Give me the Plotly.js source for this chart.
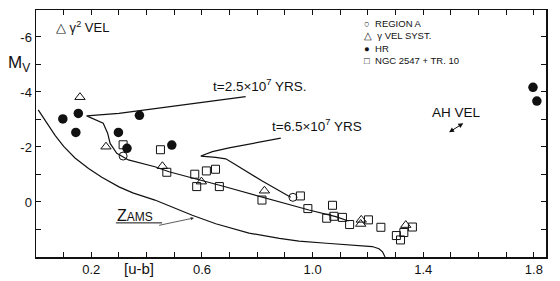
<!DOCTYPE html>
<html>
<head>
<meta charset="utf-8">
<script src="https://cdn.plot.ly/plotly-3.0.1.min.js"></script>
<style>html,body{margin:0;padding:0;background:#fff;}#chart{width:560px;height:281px;}</style>
</head>
<body>
<div id="chart"></div>
<script>
// ---- data ----
var hrX = [0.097, 0.153, 0.144, 0.298, 0.374, 0.329, 0.491, 1.797, 1.811];
var hrY = [-3.02, -3.22, -2.53, -2.53, -3.15, -1.95, -2.07, -4.17, -3.67];

var regionAX = [0.315, 0.929];
var regionAY = [-1.67, -0.17];

var gvelX = [0.159, 0.253, 0.457, 0.598, 0.826, 1.176, 1.174, 1.337];
var gvelY = [-3.81, -2.01, -1.30, -0.74, -0.41, 0.65, 0.80, 0.84];

var ngcX = [0.315, 0.450, 0.473, 0.574, 0.616, 0.649, 0.581, 0.663, 0.817, 0.956, 0.983,
            1.072, 1.051, 1.077, 1.108, 1.134, 1.202, 1.247, 1.303, 1.318, 1.330, 1.361];
var ngcY = [-2.08, -1.90, -1.08, -1.01, -1.13, -1.19, -0.56, -0.56, -0.07, -0.22, 0.24,
            0.12, 0.59, 0.52, 0.56, 0.82, 0.65, 0.92, 1.22, 1.38, 1.11, 0.91];

var zamsX = [0.008, 0.04, 0.069, 0.10, 0.141, 0.19, 0.238, 0.30, 0.35, 0.43, 0.50, 0.565,
             0.65, 0.77, 0.88, 0.951, 1.05, 1.132, 1.19, 1.216, 1.24, 1.253, 1.262];
var zamsY = [-3.35, -2.87, -2.42, -2.02, -1.60, -1.22, -0.90, -0.55, -0.33, -0.07, 0.22, 0.48,
             0.79, 1.13, 1.32, 1.42, 1.50, 1.55, 1.59, 1.62, 1.70, 1.81, 2.0];

var iso25X = [0.758, 0.60, 0.43, 0.30, 0.183, 0.243, 0.259, 0.268, 0.292, 0.334, 0.43, 0.481,
              0.674, 0.818, 0.987, 1.084, 1.13];
var iso25Y = [-3.83, -3.62, -3.37, -3.22, -3.13, -2.86, -2.50, -2.13, -1.77, -1.53, -1.28, -1.10,
              -0.58, -0.17, 0.29, 0.53, 0.69];

var iso65X = [0.885, 0.77, 0.698, 0.638, 0.596, 0.65, 0.686, 0.71, 0.818, 0.921];
var iso65Y = [-2.32, -2.12, -1.97, -1.83, -1.67, -1.62, -1.57, -1.43, -0.76, -0.17];

var xTickVals = [0.1,0.2,0.3,0.4,0.5,0.6,0.7,0.8,0.9,1.0,1.1,1.2,1.3,1.4,1.5,1.6,1.7,1.8];
var xTickText = ['','0.2','','','','0.6','','','','1.0','','','','1.4','','','','1.8'];
var yTickVals = [-6,-5,-4,-3,-2,-1,0,1];
var yTickText = ['-6','','-4','','-2','','0',''];

var legendLabels = ['REGION A', '\u03B3 VEL SYST.', 'HR', 'NGC 2547 + TR. 10'];
var legendGlyphs = ['\u25CB', '\u25B3', '\u25CF', '\u25A1'];

// ---- traces ----
var lineStyle = {color:'#111', width:1.2};
var traces = [
  {x: zamsX, y: zamsY, mode:'lines', line: lineStyle, hoverinfo:'skip'},
  {x: iso25X, y: iso25Y, mode:'lines', line: lineStyle, hoverinfo:'skip'},
  {x: iso65X, y: iso65Y, mode:'lines', line: lineStyle, hoverinfo:'skip'},
  {x: ngcX, y: ngcY, mode:'markers', name:legendLabels[3],
   marker:{symbol:'square-open', size:8, color:'#111', line:{width:1}}},
  {x: gvelX, y: gvelY, mode:'markers', name:legendLabels[1],
   marker:{symbol:'triangle-up-open', size:9, color:'#111', line:{width:1}}},
  {x: regionAX, y: regionAY, mode:'markers', name:legendLabels[0],
   marker:{symbol:'circle-open', size:8, color:'#111', line:{width:1}}},
  {x: hrX, y: hrY, mode:'markers', name:legendLabels[2],
   marker:{symbol:'circle', size:9.5, color:'#111'}}
];

var F = 'Liberation Sans, Arial, sans-serif';
var ann = [];
// Mv label
ann.push({xref:'paper', yref:'y', x:0, y:-5, xanchor:'right', yanchor:'middle', xshift:-4,
  text:'M<sub>V</sub>', showarrow:false, font:{family:F, size:17, color:'#111'}});
// x label
ann.push({xref:'x', yref:'paper', x:0.372, y:-0.045, xanchor:'center', yanchor:'middle',
  text:'[u-b]', showarrow:false, font:{family:F, size:15, color:'#111'}});
// gamma2 Vel
ann.push({xref:'x', yref:'y', x:0.066, y:-6.36, xanchor:'left', yanchor:'middle',
  text:'\u25B3 \u03B3<sup>2</sup> VEL', showarrow:false, font:{family:F, size:13, color:'#111'}});
// legend (one text block, tight rows as in the reference)
var legLines = [];
for (var i = 0; i < 4; i++) legLines.push(legendGlyphs[i] + '  ' + legendLabels[i]);
ann.push({xref:'x', yref:'y', x:1.18, y:-6.76, xanchor:'left', yanchor:'top', align:'left',
  text:legLines.join('<br>'), showarrow:false,
  font:{family:F, size:9.5, color:'#111'}});
// isochrone labels
ann.push({xref:'x', yref:'y', x:0.632, y:-4.25, xanchor:'left', yanchor:'middle',
  text:'t=2.5\u00D710<sup>7</sup> YRS.', showarrow:false, font:{family:F, size:13.5, color:'#111'}});
ann.push({xref:'x', yref:'y', x:0.845, y:-2.8, xanchor:'left', yanchor:'middle',
  text:'t=6.5\u00D710<sup>7</sup> YRS', showarrow:false, font:{family:F, size:13.5, color:'#111'}});
// AH Vel
ann.push({xref:'x', yref:'y', x:1.521, y:-3.27, xanchor:'center', yanchor:'middle',
  text:'AH VEL', showarrow:false, font:{family:F, size:13.5, color:'#111'}});
ann.push({xref:'x', yref:'y', axref:'x', ayref:'y', x:1.545, y:-2.86, ax:1.488, ay:-2.5,
  text:'', showarrow:true, arrowside:'end+start', arrowhead:2, arrowsize:1, arrowwidth:1, arrowcolor:'#111'});
// ZAMS
ann.push({xref:'x', yref:'y', x:0.287, y:0.5, xanchor:'left', yanchor:'middle',
  text:'Z<span style="font-size:12px">AMS</span>', showarrow:false, font:{family:F, size:16, color:'#111'}});
ann.push({xref:'x', yref:'y', axref:'x', ayref:'y', x:0.571, y:0.58, ax:0.44, ay:0.86,
  text:'', showarrow:true, arrowhead:2, arrowsize:0.8, arrowwidth:0.8, arrowcolor:'#333'});

var shapes = [
  {type:'line', xref:'x', yref:'y', x0:0.289, x1:0.456, y0:0.76, y1:0.76, line:{color:'#111', width:1}}
];

var layout = {
  width:560, height:281,
  margin:{l:36, r:14, t:10, b:24},
  paper_bgcolor:'#fff', plot_bgcolor:'#fff',
  showlegend:false,
  font:{family:F, size:12, color:'#111'},
  xaxis:{range:[0, 1.844], tickmode:'array', tickvals:xTickVals, ticktext:xTickText,
    ticks:'inside', ticklen:5, tickwidth:1, tickcolor:'#111',
    showline:true, linecolor:'#111', linewidth:1.5, mirror:'ticks',
    showgrid:false, zeroline:false, tickfont:{family:F, size:13, color:'#111'}},
  yaxis:{range:[2.0, -6.98], tickmode:'array', tickvals:yTickVals, ticktext:yTickText,
    ticks:'inside', ticklen:5, tickwidth:1, tickcolor:'#111',
    showline:true, linecolor:'#111', linewidth:1.5, mirror:'ticks',
    showgrid:false, zeroline:false, tickfont:{family:F, size:13, color:'#111'}},
  annotations: ann,
  shapes: shapes
};

Plotly.newPlot('chart', traces, layout, {staticPlot:true, displayModeBar:false});
</script>
</body>
</html>
